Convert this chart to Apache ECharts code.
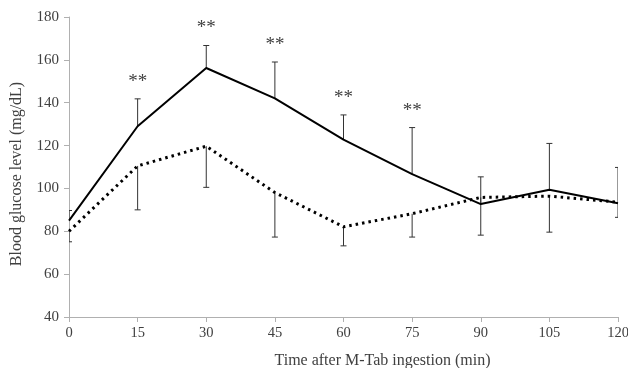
<!DOCTYPE html>
<html>
<head>
<meta charset="utf-8">
<script src="https://cdn.jsdelivr.net/npm/echarts@6/dist/echarts.min.js"></script>
<style>
  html, body { margin: 0; padding: 0; background: #fff; }
  #chart { width: 628px; height: 368px; }
</style>
</head>
<body>
<div id="chart"></div>
<script>
// Time points (min)
const times = [0, 15, 30, 45, 60, 75, 90, 105, 120];

// Solid line: mean and upper error bar top
const solidMean = [85, 129, 156.2, 142, 122.8, 106.7, 92.7, 99.4, 93.1];
const solidTop = [89.7, 141.8, 166.7, 159, 134.3, 128.4, 105.4, 121, 109.8];

// Dotted line: mean and lower error bar bottom
const dottedMean = [80, 110.5, 119.7, 98.1, 82.1, 88.2, 95.8, 96.4, 93.6];
const dottedBottom = [75.1, 90, 100.5, 77.3, 73.2, 77.3, 78.2, 79.6, 86.5];

// Significance marks
const stars = ["", "**", "**", "**", "**", "**", "", "", ""];

const yTicks = { min: 40, max: 180, interval: 20 };
const xTicks = { min: 0, max: 120, interval: 15 };

const FONT = "'Liberation Serif', 'Times New Roman', serif";
const TEXT = "#404040";
const AXIS = "#b0b0b0";

const chart = echarts.init(document.getElementById("chart"));

// error bar renderer (end = value the bar goes to from the mean)
function errorBar(api, withStar) {
  const x = api.value(0);
  const mid = api.coord([x, api.value(1)]);
  const end = api.coord([x, api.value(2)]);
  const cap = 3;
  const style = { stroke: "#333", lineWidth: 1 };
  const children = [
    { type: "line", shape: { x1: mid[0], y1: mid[1], x2: end[0], y2: end[1] }, style },
    { type: "line", shape: { x1: end[0] - cap, y1: end[1], x2: end[0] + cap, y2: end[1] }, style },
  ];
  if (withStar) {
    const s = stars[api.value(3)];
    if (s) {
      children.push({
        type: "text",
        silent: true,
        style: {
          text: s,
          x: end[0],
          y: end[1] - 17,
          align: "center",
          verticalAlign: "middle",
          fill: TEXT,
          font: "19px " + FONT,
        },
      });
    }
  }
  return { type: "group", children };
}

const option = {
  animation: false,
  backgroundColor: "#fff",
  grid: {
    left: 69,
    right: 10,
    top: 17,
    bottom: 51,
    outerBoundsMode: "none",
  },
  xAxis: {
    type: "value",
    min: xTicks.min,
    max: xTicks.max,
    interval: xTicks.interval,
    name: "Time after M-Tab ingestion (min)",
    nameLocation: "middle",
    nameGap: 36,
    nameTextStyle: {
      color: TEXT,
      fontFamily: FONT,
      fontSize: 16,
      padding: [0, 0, 0, 78],
    },
    axisLine: { lineStyle: { color: AXIS, width: 1 } },
    axisTick: { show: true, length: 5, lineStyle: { color: AXIS } },
    axisLabel: {
      color: TEXT,
      fontFamily: FONT,
      fontSize: 14.5,
      margin: 9,
    },
    splitLine: { show: false },
  },
  yAxis: {
    type: "value",
    min: yTicks.min,
    max: yTicks.max,
    interval: yTicks.interval,
    name: "Blood glucose level (mg/dL)",
    nameLocation: "middle",
    nameGap: 44,
    nameTextStyle: {
      color: TEXT,
      fontFamily: FONT,
      fontSize: 16,
      padding: [0, 14, 0, 0],
    },
    axisLine: { show: true, lineStyle: { color: AXIS, width: 1 } },
    axisTick: { show: true, length: 5, lineStyle: { color: AXIS } },
    axisLabel: {
      color: TEXT,
      fontFamily: FONT,
      fontSize: 15,
      margin: 10,
    },
    splitLine: { show: false },
  },
  series: [
    // dotted line
    {
      type: "line",
      data: times.map((t, i) => [t, dottedMean[i]]),
      showSymbol: false,
      symbol: "none",
      lineStyle: {
        color: "#000",
        width: 3,
        type: [2.5, 4],
        cap: "butt",
      },
      z: 3,
    },
    // solid line
    {
      type: "line",
      data: times.map((t, i) => [t, solidMean[i]]),
      showSymbol: false,
      symbol: "none",
      lineStyle: { color: "#000", width: 2 },
      z: 4,
    },
    // error bars (solid, upward) with significance marks
    {
      type: "custom",
      clip: true,
      data: times.map((t, i) => [t, solidMean[i], solidTop[i], i]),
      renderItem: (params, api) => errorBar(api, true),
      z: 2,
    },
    // error bars (dotted, downward)
    {
      type: "custom",
      clip: true,
      data: times.map((t, i) => [t, dottedMean[i], dottedBottom[i], i]),
      renderItem: (params, api) => errorBar(api, false),
      z: 2,
    },
  ],
};

chart.setOption(option);
</script>
</body>
</html>
